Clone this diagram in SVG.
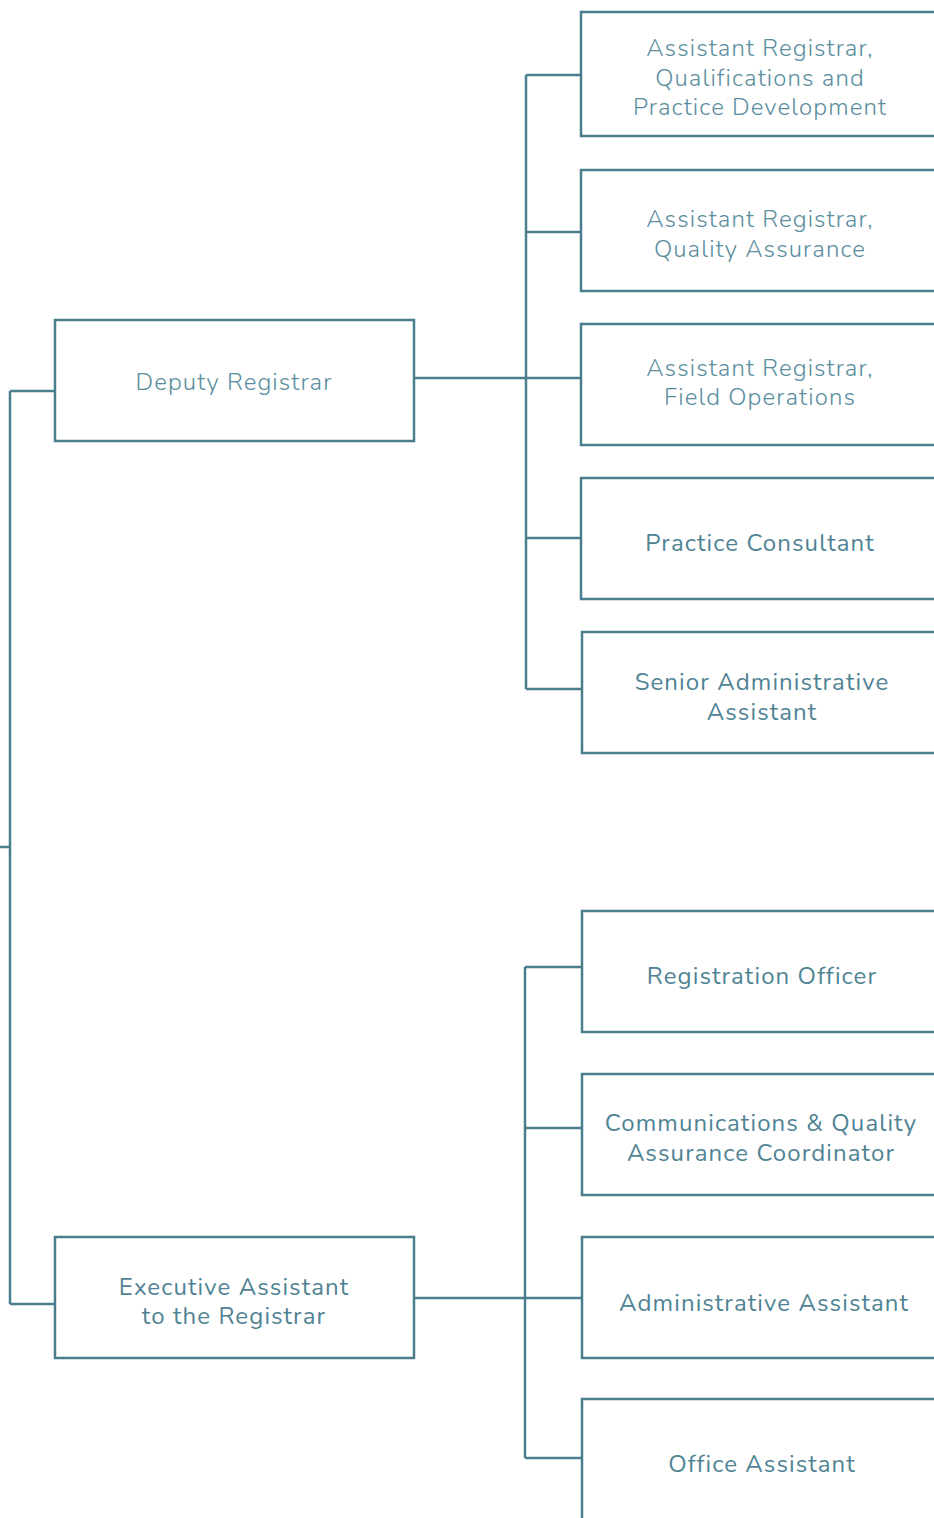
<svg xmlns="http://www.w3.org/2000/svg" width="934" height="1518" viewBox="0 0 934 1518">
<style>
.box{fill:#fff;stroke:#4a7d8d;stroke-width:2.5}
.ln{fill:none;stroke:#4a7d8d;stroke-width:2.5}
text{font-family:"Nunito","Open Sans","Liberation Sans",sans-serif;font-size:24px;letter-spacing:1.1px;fill:#4f8394;text-anchor:middle}
.lt{font-weight:300;fill:#5a8d9e}
</style>
<rect width="934" height="1518" fill="#fff"/>
<g id="connectors">
<path class="ln" d="M0 847H10M10 391V1304M10 391H55M10 1304H55"/>
<path class="ln" d="M414 378H581M526 75V689M526 75H581M526 232H581M526 538H581M526 689H582"/>
<path class="ln" d="M414 1298H582M525 967V1458M525 967H582M525 1128H582M525 1458H582"/>
</g>
<g id="deputy"><rect class="box" x="55" y="320" width="359" height="121"/><text class="lt" x="234" y="390">Deputy Registrar</text></g>
<g id="exec"><rect class="box" x="55" y="1237" width="359" height="121"/><text x="234" y="1295">Executive Assistant</text><text x="234" y="1324">to the Registrar</text></g>
<g id="ar-qpd"><rect class="box" x="581" y="12" width="360" height="124"/><text class="lt" x="760" y="56">Assistant Registrar,</text><text class="lt" x="760" y="86">Qualifications and</text><text class="lt" x="760" y="115">Practice Development</text></g>
<g id="ar-qa"><rect class="box" x="581" y="170" width="360" height="121"/><text class="lt" x="760" y="227">Assistant Registrar,</text><text class="lt" x="760" y="257">Quality Assurance</text></g>
<g id="ar-fo"><rect class="box" x="581" y="324" width="360" height="121"/><text class="lt" x="760" y="376">Assistant Registrar,</text><text class="lt" x="760" y="405">Field Operations</text></g>
<g id="pc"><rect class="box" x="581" y="478" width="360" height="121"/><text x="760" y="551">Practice Consultant</text></g>
<g id="saa"><rect class="box" x="582" y="632" width="360" height="121"/><text x="762" y="690">Senior Administrative</text><text x="762" y="720">Assistant</text></g>
<g id="ro"><rect class="box" x="582" y="911" width="360" height="121"/><text x="762" y="984">Registration Officer</text></g>
<g id="cqa"><rect class="box" x="582" y="1074" width="360" height="121"/><text x="761" y="1131">Communications &amp; Quality</text><text x="761" y="1161">Assurance Coordinator</text></g>
<g id="aa"><rect class="box" x="582" y="1237" width="360" height="121"/><text x="764" y="1311">Administrative Assistant</text></g>
<g id="oa"><rect class="box" x="582" y="1399" width="360" height="140"/><text x="762" y="1472">Office Assistant</text></g>
</svg>
